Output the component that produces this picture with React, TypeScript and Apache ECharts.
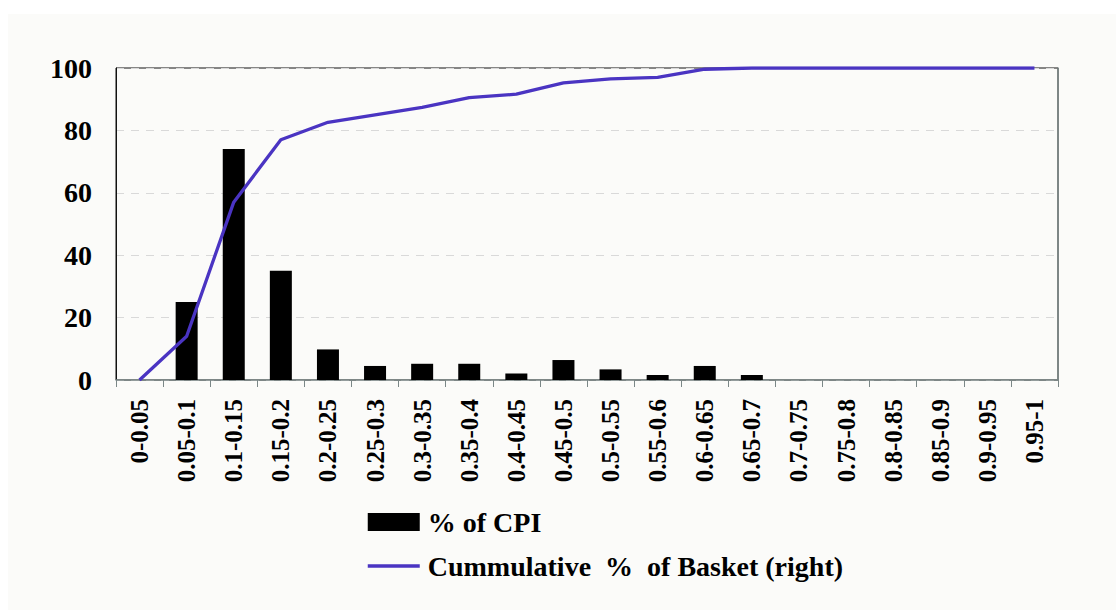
import React, { useEffect, useRef } from "react";
import * as echarts from "echarts";

const categories = [
  "0-0.05", "0.05-0.1", "0.1-0.15", "0.15-0.2", "0.2-0.25", "0.25-0.3", "0.3-0.35",
  "0.35-0.4", "0.4-0.45", "0.45-0.5", "0.5-0.55", "0.55-0.6", "0.6-0.65", "0.65-0.7",
  "0.7-0.75", "0.75-0.8", "0.8-0.85", "0.85-0.9", "0.9-0.95", "0.95-1",
];
const cpiShare = [0, 25, 74, 35, 9.8, 4.5, 5.2, 5.2, 2.1, 6.4, 3.4, 1.6, 4.5, 1.6, 0, 0, 0, 0, 0, 0];
const cumulative = [0, 14, 57, 77, 82.6, 85, 87.4, 90.5, 91.6, 95.2, 96.5, 97, 99.6, 100, 100, 100, 100, 100, 100, 100];
const yTicks = { min: 0, max: 100, interval: 20 };
const seriesNames = ["% of CPI", "Cummulative  %  of Basket (right)"];

const serif = "Liberation Serif";

export default function App() {
  const ref = useRef<HTMLDivElement>(null);
  useEffect(() => {
    if (!ref.current) return;
    const chart = echarts.init(ref.current, undefined, { renderer: "svg" });
    chart.setOption({
      animation: false,
      backgroundColor: "#ffffff",
      graphic: [
        {
          type: "rect",
          z: -10,
          silent: true,
          shape: { x: 8, y: 14, width: 1108, height: 596 },
          style: { fill: "#fbfbf9" },
        },
      ],
      grid: {
        left: 116,
        right: 58,
        top: 68,
        bottom: 230,
        show: true,
        borderColor: "#111111",
        borderWidth: 1,
        backgroundColor: "transparent",
      },
      legend: {
        orient: "vertical",
        left: 361,
        top: 503,
        itemWidth: 52,
        itemHeight: 18,
        itemGap: 16,
        textStyle: {
          fontFamily: serif,
          fontWeight: "bold",
          fontSize: 28,
          color: "#000",
          padding: [0, 0, 0, 3],
        },
        data: [
          { name: seriesNames[0], icon: "rect" },
          {
            name: seriesNames[1],
            itemStyle: { color: "rgba(0,0,0,0)", borderWidth: 0, opacity: 0 },
            lineStyle: { width: 3.5, color: "#4a34c2" },
          },
        ],
      },
      xAxis: {
        type: "category",
        data: categories,
        boundaryGap: true,
        axisLine: { show: true, lineStyle: { color: "#7b8787", width: 1.5 } },
        axisTick: { show: true, alignWithLabel: false, length: 7, lineStyle: { color: "#7b8787" } },
        axisLabel: {
          interval: 0,
          rotate: 90,
          margin: 19,
          fontFamily: serif,
          fontWeight: "bold",
          fontSize: 25,
          color: "#000",
        },
        splitLine: { show: false },
      },
      yAxis: [
        {
          type: "value",
          min: yTicks.min,
          max: yTicks.max,
          interval: yTicks.interval,
          axisLine: { show: true, lineStyle: { color: "#111" } },
          axisTick: { show: false },
          axisLabel: {
            margin: 24,
            fontFamily: serif,
            fontWeight: "bold",
            fontSize: 28,
            color: "#000",
          },
          splitLine: { show: true, lineStyle: { color: "#d9d9d9", type: [8, 7] } },
        },
        {
          type: "value",
          min: yTicks.min,
          max: yTicks.max,
          interval: yTicks.interval,
          position: "right",
          axisLine: { show: true, lineStyle: { color: "#7b8787", width: 1.5 } },
          axisTick: { show: false },
          axisLabel: { show: false },
          splitLine: { show: false },
        },
      ],
      series: [
        {
          name: seriesNames[0],
          type: "bar",
          data: cpiShare,
          barWidth: 22,
          itemStyle: { color: "#000000" },
          yAxisIndex: 0,
        },
        {
          name: seriesNames[1],
          type: "line",
          data: cumulative,
          yAxisIndex: 1,
          symbol: "none",
          lineStyle: { color: "#4a34c2", width: 3.3 },
          itemStyle: { color: "#4a34c2" },
          z: 5,
        },
      ],
    });
    return () => chart.dispose();
  }, []);
  return (
    <div
      ref={ref}
      style={{ position: "absolute", left: 0, top: 0, width: 1116, height: 610 }}
    />
  );
}
